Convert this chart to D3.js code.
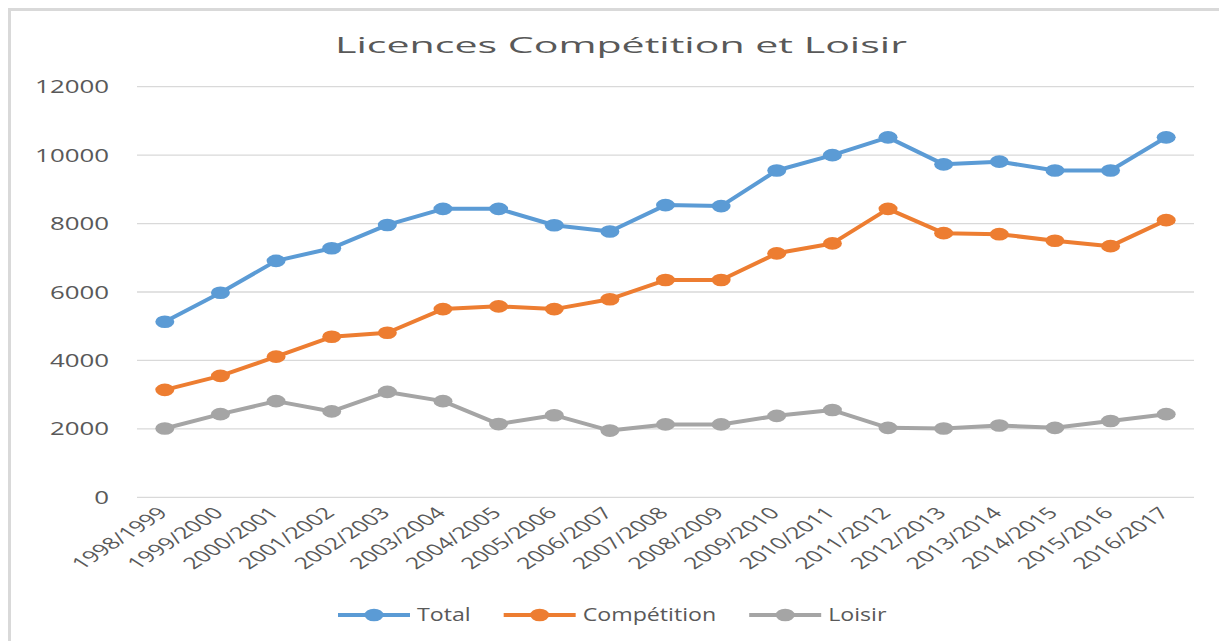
<!DOCTYPE html>
<html>
<head>
<meta charset="utf-8">
<script src="https://cdn.jsdelivr.net/npm/d3@7"></script>
<style>
  body { margin: 0; background: #fff; }
  text { font-family: "Open Sans", sans-serif; fill: #595959; }
</style>
</head>
<body>
<div id="app"></div>
<script>
var saisons = ["1998/1999", "1999/2000", "2000/2001", "2001/2002", "2002/2003", "2003/2004",
               "2004/2005", "2005/2006", "2006/2007", "2007/2008", "2008/2009", "2009/2010",
               "2010/2011", "2011/2012", "2012/2013", "2013/2014", "2014/2015", "2015/2016", "2016/2017"];
var total = [5130, 5980, 6910, 7280, 7960, 8430, 8430, 7950, 7770, 8540, 8510, 9550,
             10000, 10520, 9730, 9810, 9550, 9550, 10520];
var competition = [3140, 3550, 4110, 4690, 4810, 5500, 5580, 5500, 5790, 6350, 6350, 7130,
                   7420, 8430, 7720, 7690, 7500, 7340, 8100];
var loisir = [2010, 2430, 2810, 2510, 3080, 2810, 2140, 2400, 1950, 2130, 2130, 2380,
              2550, 2030, 2010, 2100, 2030, 2230, 2430];
var yTicks = [0, 2000, 4000, 6000, 8000, 10000, 12000];
var seriesNames = ["Total", "Compétition", "Loisir"];
var colors = ["#5B9BD5", "#ED7D31", "#A5A5A5"];

var width = 1219;
var height = 641;
var sx = 1.55; // the picture is stretched sideways

var svg = d3.select("#app").append("svg")
            .attr("width", width)
            .attr("height", height);

// frame
svg.append("line").attr("x1", 8).attr("x2", width).attr("y1", 9.5).attr("y2", 9.5)
    .attr("stroke", "#d9d9d9").attr("stroke-width", 3);
svg.append("line").attr("x1", 9.5).attr("x2", 9.5).attr("y1", 8).attr("y2", height)
    .attr("stroke", "#d9d9d9").attr("stroke-width", 3);

var x = d3.scalePoint().domain(saisons).range([137, 1194]).padding(0.5);
var y = d3.scaleLinear().domain([0, 12000]).range([497.3, 86.7]);

// title
svg.append("text")
    .attr("x", 335).attr("y", 53)
    .attr("font-size", 22)
    .attr("textLength", 572)
    .attr("lengthAdjust", "spacingAndGlyphs")
    .text("Licences Compétition et Loisir");

// grid
svg.append("g").selectAll("line")
    .data(yTicks)
    .enter().append("line")
    .attr("x1", 137).attr("x2", 1194)
    .attr("y1", function(d) { return y(d); })
    .attr("y2", function(d) { return y(d); })
    .attr("stroke", "#d9d9d9").attr("stroke-width", 1.3);

// y labels
svg.append("g").selectAll("text")
    .data(yTicks)
    .enter().append("text")
    .attr("text-anchor", "end")
    .attr("font-size", 18.6)
    .attr("dy", "0.35em")
    .attr("transform", function(d) { return "translate(109," + y(d) + ") scale(1.39,1)"; })
    .text(function(d) { return d; });

// x labels
svg.append("g").selectAll("text")
    .data(saisons)
    .enter().append("text")
    .attr("text-anchor", "end")
    .attr("font-size", 16)
    .attr("transform", function(d) { return "translate(" + (x(d) + 4) + ",514) scale(" + sx + ",1) rotate(-45)"; })
    .text(function(d) { return d; });

var allSeries = [total, competition, loisir];
var line = d3.line()
    .x(function(d, i) { return x(saisons[i]); })
    .y(function(d) { return y(d); });

allSeries.forEach(function(values, k) {
    var g = svg.append("g");
    g.append("path")
        .attr("d", line(values))
        .attr("fill", "none")
        .attr("stroke", colors[k])
        .attr("stroke-width", 4)
        .attr("stroke-linejoin", "round");
    g.selectAll("ellipse")
        .data(values)
        .enter().append("ellipse")
        .attr("cx", function(d, i) { return x(saisons[i]); })
        .attr("cy", function(d) { return y(d); })
        .attr("rx", 9.5).attr("ry", 6.3)
        .attr("fill", colors[k]);
});

// legend
var legend = svg.append("g");
var lx = 0;
seriesNames.forEach(function(name, k) {
    var item = legend.append("g").attr("transform", "translate(" + lx + ",0)");
    item.append("line").attr("x1", 0).attr("x2", 72).attr("y1", 0).attr("y2", 0)
        .attr("stroke", colors[k]).attr("stroke-width", 4);
    item.append("ellipse").attr("cx", 36).attr("cy", 0).attr("rx", 9.5).attr("ry", 6.3)
        .attr("fill", colors[k]);
    var t = item.append("text")
        .attr("font-size", 17.3)
        .attr("dy", "0.36em")
        .attr("transform", "translate(79,0) scale(1.34,1)")
        .text(name);
    lx += 79 + t.node().getComputedTextLength() * 1.34 + 33;
});
legend.attr("transform", "translate(" + (338) + ",615)");
</script>
</body>
</html>
